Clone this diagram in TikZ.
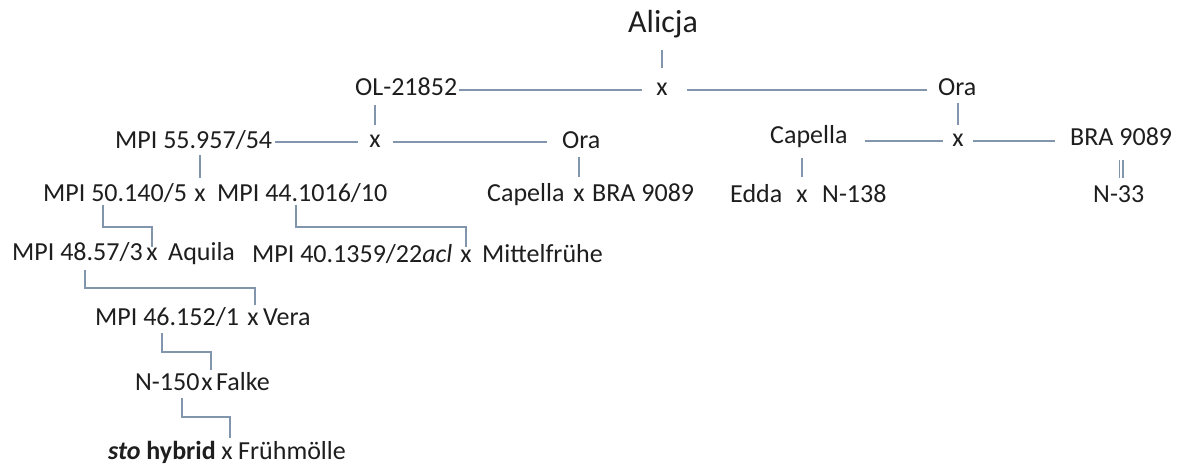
\documentclass[tikz,border=0pt]{standalone}
\usepackage{fontspec}
\setmainfont{Carlito}
\usetikzlibrary{calc}
\definecolor{ink}{HTML}{1E1E1E}
\definecolor{wire}{HTML}{8196AC}
\tikzset{
  breed/.style={anchor=base west, inner sep=0pt, text height=17pt, text depth=0pt,
                text=ink, font=\fontsize{26pt}{30pt}\selectfont},
  cross/.style={breed, anchor=base, text height=12pt},
  link/.style={draw=wire, line width=1.4pt},
}
\begin{document}
\begin{tikzpicture}[x=1pt,y=-1pt]
\useasboundingbox[fill=white] (0,0) rectangle (1179,468);

% generation 1
\node[breed, text height=20pt, font=\fontsize{32pt}{36pt}\selectfont] (alicja) at (628,33) {Alicja};

% generation 2
\node[breed] (ol)   at (355,96) {OL-21852};
\node[cross] (xa)   at (662,96) {x};
\node[breed] (oraA) at (938,96) {Ora};

% generation 3
\node[breed] (mpiA) at (115,149) {MPI 55.957/54};
\node[cross] (xb)   at (375,148) {x};
\node[breed] (oraB) at (562,149) {Ora};
\node[breed] (capA) at (770,144) {Capella};
\node[cross] (xc)   at (958,147) {x};
\node[breed] (braA) at (1070,146) {BRA 9089};

% generation 4
\node[breed] (mpiB) at (43,202)  {MPI 50.140/5};
\node[cross] (xd)   at (200,202) {x};
\node[breed] (mpiC) at (217,202) {MPI 44.1016/10};
\node[breed] (capB) at (487,202) {Capella};
\node[cross] (xe)   at (579,202) {x};
\node[breed] (braB) at (592,202) {BRA 9089};
\node[breed] (edda) at (730,203) {Edda};
\node[cross] (xf)   at (802,203) {x};
\node[breed] (nA)   at (822,203) {N-138};
\node[breed] (nB)   at (1093,203) {N-33};

% generation 5
\node[breed] (mpiD)   at (12,260)  {MPI 48.57/3};
\node[cross] (xg)     at (152,260) {x};
\node[breed] (aquila) at (168,260) {Aquila};
\node[breed] (mpiE)   at (252,262) {MPI 40.1359/22\textit{acl}};
\node[cross] (xh)     at (466,262) {x};
\node[breed] (mittel) at (482,262) {Mittelfrühe};

% generations 6-8
\node[breed] (mpiF)  at (95,325)  {MPI 46.152/1};
\node[cross] (xi)    at (253,325) {x};
\node[breed] (vera)  at (263,325) {Vera};
\node[breed] (nC)    at (135,390) {N-150};
\node[cross] (xj)    at (207,390) {x};
\node[breed] (falke) at (216,390) {Falke};
\node[breed] (sto)   at (108,459) {\textbf{\textit{sto} hybrid}};
\node[cross] (xk)    at (227,459) {x};
\node[breed] (fruh)  at (238,459) {Frühmölle};

% crosses of the upper generations
\draw[link, shorten <=17pt, shorten >=16pt] (alicja.south -| xa.north) -- (xa.north);
\draw[link, shorten <=2pt, shorten >=14.5pt] (ol.east |- xa.center) -- (xa.west);
\draw[link, shorten <=19.5pt, shorten >=11pt] (xa.east) -- (oraA.west |- xa.center);

\draw[link, shorten <=9pt, shorten >=11pt] (ol.south -| xb.north) -- (xb.north);
\draw[link, shorten <=3pt, shorten >=11.5pt] (mpiA.east |- xb.center) -- (xb.west);
\draw[link, shorten <=12.5pt, shorten >=15pt] (xb.east) -- (oraB.west |- xb.center);

\draw[link, shorten <=7pt, shorten >=10pt] (oraA.south -| xc.north) -- (xc.north);
\draw[link, shorten <=17pt, shorten >=9.5pt] (capA.east |- xc.center) -- (xc.west);
\draw[link, shorten <=9.5pt, shorten >=15pt] (xc.east) -- (braA.west |- xc.center);

\draw[link, shorten <=6pt, shorten >=12pt] (mpiA.south -| xd.north) -- (xd.north);
\draw[link, shorten <=8pt, shorten >=13pt] (oraB.south -| xe.north) -- (xe.north);
\draw[link, shorten <=14pt, shorten >=14pt] (capA.south -| xf.north) -- (xf.north);
\draw[link, line width=1.3pt, double=white, double distance=2.6pt,
      shorten <=14pt, shorten >=8pt] (braA.south) -- (braA.south |- nB.north);

% elbow connectors of the lower generations
\draw[link, shorten >=1pt] ($(mpiB.base west)+(60,3)$) -- ++(0,22) -| (xg.north);
\draw[link, shorten >=3pt] ($(mpiC.base west)+(79,3)$) -- ++(0,22) -| (xh.north);
\draw[link, shorten >=8pt] ($(mpiD.base west)+(73,10)$) -- ++(0,18) -| ([xshift=2pt]xi.north);
\draw[link, shorten >=8pt] ($(mpiF.base west)+(67,8)$) -- ++(0,19) -| ([xshift=4pt]xj.north);
\draw[link, shorten >=9pt] ($(nC.base west)+(47,8)$) -- ++(0,19) -| ([xshift=3pt]xk.north);
\end{tikzpicture}
\end{document}
